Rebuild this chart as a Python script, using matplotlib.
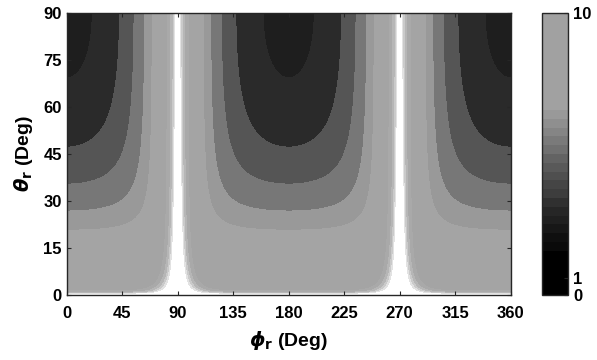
import matplotlib
matplotlib.use("Agg")
import matplotlib.pyplot as plt
import numpy as np
from matplotlib.cm import ScalarMappable
from matplotlib.colors import FuncNorm, ListedColormap

plt.rcParams["font.family"] = ["Liberation Sans", "DejaVu Sans"]
plt.rcParams["font.weight"] = "bold"
plt.rcParams["axes.labelweight"] = "bold"
plt.rcParams["mathtext.default"] = "it"

PHI_TICKS = [0, 45, 90, 135, 180, 225, 270, 315, 360]
THETA_TICKS = [0, 15, 30, 45, 60, 75, 90]

# dark contour edges read along phi = 0 (theta in deg, top to bottom)
DARK_EDGE_THETA = [69.3, 47.2, 35.4, 26.8, 20.7]
DARK_COLORS = ["#1e1e1e", "#2a2a2a", "#555555", "#777777", "#999999", "#a4a4a4"]
# light bands next to the phi = 90/270 ridge, read along the top edge (phi in deg)
LIGHT_EDGE_PHI = [81.5, 84.5, 86.3, 87.4, 88.3]
LIGHT_COLORS = ["#a9a9a9", "#b6b6b6", "#cacaca", "#e2e2e2", "#ffffff"]

CBAR_TICKS = [0, 1, 10]
CBAR_TICK_POS = [0, 0.06, 1]
CBAR_GRAYS = [0.0, 0.0, 0.0, 0.0, 0.0, 0.04, 0.06, 0.09, 0.12, 0.15, 0.19,
              0.24, 0.27, 0.31, 0.35, 0.39, 0.44, 0.48, 0.52, 0.56, 0.60] + [0.63] * 11


def main():
    phi = np.linspace(0, 360, 1441)
    theta = np.linspace(0.01, 90, 721)
    P, T = np.meshgrid(np.radians(phi), np.radians(theta))
    tp = np.abs(np.tan(P))
    ct = 1.0 / np.tan(T)

    cap = 1e4
    dark = np.minimum(np.sqrt(tp**2 + ct**2), cap)
    light = tp * np.sqrt(1 + (tp * ct / 25) ** 2)
    light = np.minimum(np.sqrt(light**2 + (ct / 6.5) ** 2), cap)

    dark_levels = [0] + list(1.0 / np.tan(np.radians(DARK_EDGE_THETA))) + [cap * 2]
    light_levels = list(np.tan(np.radians(LIGHT_EDGE_PHI))) + [cap * 2]

    fig = plt.figure(figsize=(5.97, 3.6), dpi=100)
    ax = fig.add_axes([0.1117, 0.1806, 0.7437, 0.7833])
    ax.contourf(phi, theta, dark, levels=dark_levels, colors=DARK_COLORS)
    ax.contourf(phi, theta, light, levels=light_levels, colors=LIGHT_COLORS)

    ax.set_xlim(0, 360)
    ax.set_ylim(0, 90)
    ax.set_xticks(PHI_TICKS)
    ax.set_yticks(THETA_TICKS)
    ax.tick_params(direction="in", length=3, width=0.8, labelsize=12,
                   top=True, right=True, color="#262626")
    ax.tick_params(axis="x", pad=8)
    for s in ax.spines.values():
        s.set_linewidth(1.0)
        s.set_color("#262626")
    ax.set_xlabel(r"$\phi_\mathbf{r}$ (Deg)", fontsize=14, labelpad=6)
    ax.set_ylabel(r"$\theta_\mathbf{r}$ (Deg)", fontsize=14, labelpad=6)

    fwd = lambda v: np.interp(np.asarray(v, dtype=float), CBAR_TICKS, CBAR_TICK_POS)
    inv = lambda p: np.interp(np.asarray(p, dtype=float), CBAR_TICK_POS, CBAR_TICKS)
    cmap = ListedColormap([(g, g, g) for g in CBAR_GRAYS])
    sm = ScalarMappable(norm=FuncNorm((fwd, inv), vmin=0, vmax=10), cmap=cmap)
    cax = fig.add_axes([0.9073, 0.1806, 0.0447, 0.7833])
    cb = fig.colorbar(sm, cax=cax, ticks=CBAR_TICKS)
    cb.ax.tick_params(direction="in", length=3, width=0.8, labelsize=12,
                      color="#262626")
    cb.outline.set_linewidth(1.0)
    cb.outline.set_edgecolor("#262626")

    fig.savefig("out.png", dpi=100)


if __name__ == "__main__":
    main()
